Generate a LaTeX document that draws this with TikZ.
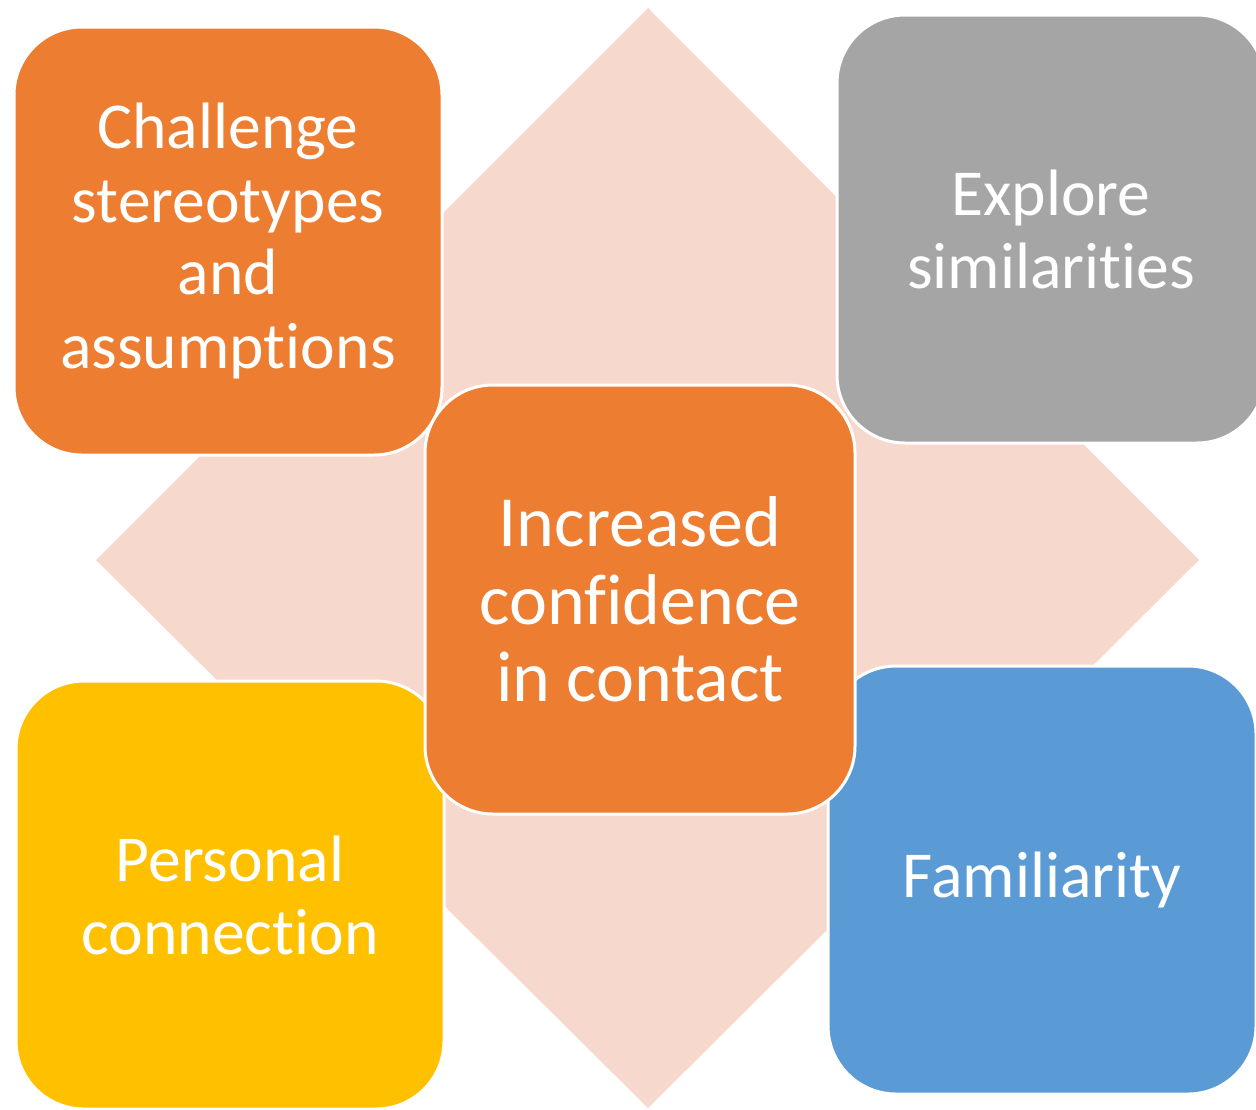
\documentclass[tikz,border=0pt]{standalone}
\usepackage{fontspec}
\setmainfont[RawFeature=-liga]{Carlito}
\definecolor{cOrange}{HTML}{ED7D31}
\definecolor{cGray}{HTML}{A5A5A5}
\definecolor{cYellow}{HTML}{FFC000}
\definecolor{cBlue}{HTML}{5B9BD5}
\definecolor{cPink}{HTML}{F7D8CD}
\begin{document}
\begin{tikzpicture}[x=0.5pt,y=-0.5pt,
  box/.style={rectangle, rounded corners=34pt, draw=white, line width=1.5pt,
    minimum width=214pt, minimum height=214pt, inner sep=0pt,
    text=white, align=center, font=\fontsize{32.8}{36.5}\selectfont},
  bigbox/.style={box, minimum width=215pt, minimum height=214.5pt,
    font=\fontsize{36}{38.8}\selectfont}]
\useasboundingbox (0,0) rectangle (1256,1109);
\clip (0,0) rectangle (1256,1109);
\fill[white] (0,0) rectangle (1256,1109);
\coordinate (dt) at (648,8);
\coordinate (dr) at (1199,560);
\coordinate (db) at (648,1108);
\coordinate (dl) at (96,560);
\fill[cPink] (dt) -- (dr) -- (db) -- (dl) -- cycle;
\node[box, fill=cOrange] (tl) at (228,241) {Challenge\\stereotypes\\and\\assumptions};
\node[box, fill=cGray] (tr) at (1051,229) {Explore\\similarities};
\node[box, fill=cYellow] (bl) at (230,895) {Personal\\connection};
\node[box, fill=cBlue] (br) at (1042,880) {Familiarity};
\node[bigbox, fill=cOrange] (c) at (640,599.5) {Increased\\confidence\\in contact};
\end{tikzpicture}
\end{document}
